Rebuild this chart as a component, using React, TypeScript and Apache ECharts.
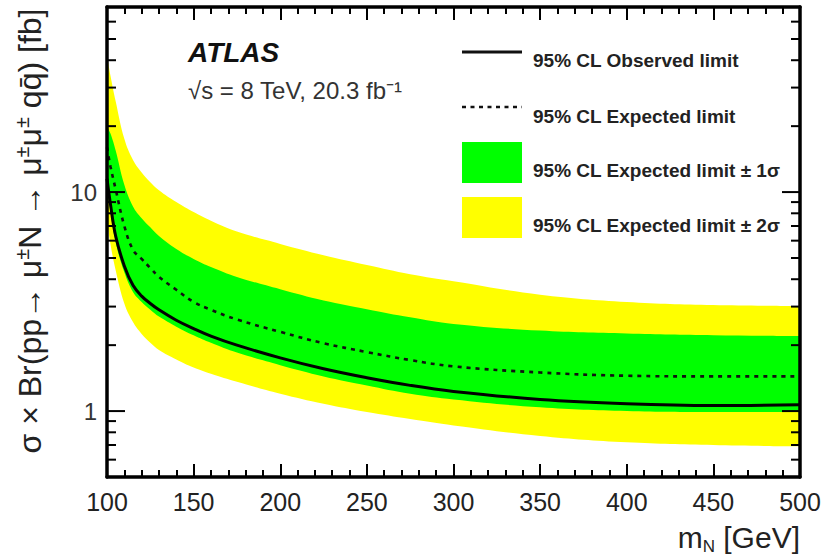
import React, { useEffect, useRef } from "react";
import * as echarts from "echarts";

// Heavy-neutrino mass points [GeV]
const masses = [100, 102, 105, 110, 115, 120, 125, 130, 140, 150, 160, 175, 200, 225, 250, 275, 300, 350, 400, 450, 500];
// 95% CL limits on sigma x Br [fb]
const observed = [11.5, 8.8, 6.3, 4.6, 3.75, 3.35, 3.1, 2.9, 2.6, 2.38, 2.2, 2.0, 1.75, 1.56, 1.42, 1.31, 1.23, 1.13, 1.08, 1.06, 1.07];
const expected = [16, 13.1, 10.3, 7.0, 5.45, 4.95, 4.5, 4.1, 3.58, 3.15, 2.9, 2.62, 2.3, 2.04, 1.86, 1.71, 1.6, 1.5, 1.45, 1.44, 1.44];
const plus1 = [20, 18.5, 15.5, 10.8, 8.6, 7.6, 6.9, 6.3, 5.5, 4.95, 4.55, 4.1, 3.6, 3.2, 2.92, 2.68, 2.5, 2.33, 2.26, 2.22, 2.2];
const plus2 = [42, 34, 26, 17.5, 14, 12.3, 11.1, 10.2, 9.0, 8.1, 7.4, 6.6, 5.8, 5.15, 4.65, 4.22, 3.92, 3.4, 3.15, 3.05, 3.02];
const minus1 = [10.5, 8.2, 5.9, 4.3, 3.5, 3.15, 2.9, 2.7, 2.43, 2.22, 2.05, 1.85, 1.62, 1.44, 1.31, 1.2, 1.13, 1.04, 1.0, 0.99, 0.99];
const minus2 = [7.5, 5.8, 4.4, 3.1, 2.55, 2.25, 2.05, 1.9, 1.72, 1.58, 1.48, 1.36, 1.2, 1.08, 0.99, 0.92, 0.86, 0.77, 0.72, 0.7, 0.69];

// axis ticks
const yMajorTicks = [1, 10];
const yMinorTicks = [0.6, 0.7, 0.8, 0.9, 2, 3, 4, 5, 6, 7, 8, 9, 20, 30, 40, 50, 60];
const yLabels = ["1", "10"];

const legendLabels = [
  "95% CL Observed limit",
  "95% CL Expected limit",
  "95% CL Expected limit \u00b1 1\u03c3",
  "95% CL Expected limit \u00b1 2\u03c3",
];

const FONT = "'Liberation Sans', Arial, Helvetica, sans-serif";
const YELLOW = "#ffff00";
const GREEN = "#00ff00";
const SMOOTH = 0.4;

const pts = (vals: number[]) => masses.map((m, i) => [m, vals[i]]);

const band = (name: string, vals: number[], color: string) => ({
  name,
  type: "line",
  data: pts(vals),
  smooth: SMOOTH,
  symbol: "none",
  silent: true,
  lineStyle: { opacity: 0 },
  areaStyle: { color, opacity: 1, origin: "start" },
  z: 2,
});

function App() {
  const ref = useRef<HTMLDivElement>(null);
  useEffect(() => {
    const chart = echarts.init(ref.current!, null, { renderer: "svg" });
    const xAxisBase = {
      type: "value",
      min: 100,
      max: 500,
      interval: 50,
      z: 10,
      axisLine: { show: true, lineStyle: { color: "#000", width: 3.5 } },
      axisTick: { show: true, inside: true, length: 13, lineStyle: { color: "#000", width: 2 } },
      minorTick: { show: true, splitNumber: 5, length: 7, lineStyle: { color: "#000", width: 2 } },
      splitLine: { show: false },
    };
    const yAxisBase = {
      type: "log",
      logBase: 10,
      min: 0.5,
      max: 70,
      z: 10,
      axisLine: { show: true, lineStyle: { color: "#000", width: 3.5 } },
      axisTick: { show: false },
      splitLine: { show: false },
    };
    const option = {
      animation: false,
      backgroundColor: "#fff",
      grid: { left: 107, right: 27, top: 7, bottom: 78, containLabel: false },
      xAxis: [
        {
          ...xAxisBase,
          position: "bottom",
          axisLabel: { show: true, fontSize: 25, color: "#222", fontFamily: FONT, margin: 12 },
        },
        { ...xAxisBase, position: "top", axisLabel: { show: false } },
      ],
      yAxis: [
        {
          ...yAxisBase,
          position: "left",
          axisLabel: {
            show: true,
            fontSize: 24,
            color: "#333",
            fontFamily: FONT,
            margin: 10,
            formatter: (v: number) => {
              for (let i = 0; i < yMajorTicks.length; i++) {
                if (Math.abs(v - yMajorTicks[i]) < 1e-6) return yLabels[i];
              }
              return "";
            },
          },
        },
        { ...yAxisBase, position: "right", axisLabel: { show: false } },
      ],
      series: [
        band("95% CL Expected limit \u00b1 2\u03c3", plus2, YELLOW),
        band("95% CL Expected limit \u00b1 1\u03c3", plus1, GREEN),
        band("lower1", minus1, YELLOW),
        band("lower2", minus2, "#ffffff"),
        {
          name: "95% CL Expected limit",
          type: "line",
          data: pts(expected),
          smooth: SMOOTH,
          symbol: "none",
          lineStyle: { color: "#111", width: 2.6, type: [4, 5] },
          z: 4,
        },
        {
          name: "95% CL Observed limit",
          type: "line",
          data: pts(observed),
          smooth: SMOOTH,
          symbol: "none",
          lineStyle: { color: "#000", width: 3 },
          z: 4,
        },
        {
          type: "custom",
          coordinateSystem: "cartesian2d",
          data: [[100, 1]],
          clip: false,
          z: 6,
          silent: true,
          renderItem: (_p: any, api: any) => {
            const children: any[] = [];
            const add = (v: number, len: number) => {
              const l = api.coord([100, v]);
              const r = api.coord([500, v]);
              children.push({
                type: "line",
                shape: { x1: l[0], y1: l[1], x2: l[0] + len, y2: l[1] },
                style: { stroke: "#000", lineWidth: 2 },
              });
              children.push({
                type: "line",
                shape: { x1: r[0] - len, y1: r[1], x2: r[0], y2: r[1] },
                style: { stroke: "#000", lineWidth: 2 },
              });
            };
            yMajorTicks.forEach((v) => add(v, 18));
            yMinorTicks.forEach((v) => add(v, 9));
            return { type: "group", children };
          },
        },
      ],
      graphic: [
        {
          type: "text",
          x: 188,
          y: 52,
          style: {
            text: "ATLAS",
            fontFamily: FONT,
            fontSize: 28,
            fontWeight: "bold",
            fontStyle: "italic",
            fill: "#111",
            verticalAlign: "middle",
          },
        },
        {
          type: "text",
          x: 188,
          y: 90,
          style: {
            text: "\u221as = 8 TeV, 20.3 fb\u207b\u00b9",
            fontFamily: FONT,
            fontSize: 24,
            fill: "#333",
            verticalAlign: "middle",
          },
        },
        // legend
        { type: "line", shape: { x1: 462, y1: 52, x2: 522, y2: 52 }, style: { stroke: "#111", lineWidth: 3 } },
        {
          type: "line",
          shape: { x1: 462, y1: 107, x2: 522, y2: 107 },
          style: { stroke: "#111", lineWidth: 2.6, lineDash: [4, 4.5] },
        },
        { type: "rect", shape: { x: 462, y: 142, width: 60, height: 41 }, style: { fill: GREEN } },
        { type: "rect", shape: { x: 462, y: 197, width: 60, height: 41 }, style: { fill: YELLOW } },
        ...legendLabels.map((t, i) => ({
          type: "text",
          x: 533,
          y: [60, 116, 170, 225][i],
          style: {
            text: t,
            fontFamily: FONT,
            fontSize: 19,
            fontWeight: "bold",
            fill: "#222",
            verticalAlign: "middle",
          },
        })),
        // x-axis title
        {
          type: "text",
          x: 800,
          y: 537,
          style: {
            text: "{n|m}{s|N}{n| [GeV]}",
            align: "right",
            verticalAlign: "middle",
            fill: "#222",
            rich: {
              n: { fontFamily: FONT, fontSize: 30, fill: "#222", lineHeight: 35 },
              s: { fontFamily: FONT, fontSize: 17, fill: "#222", verticalAlign: "bottom", lineHeight: 22 },
            },
          },
        },
        // y-axis title
        {
          type: "text",
          x: 30,
          y: 231,
          rotation: Math.PI / 2,
          style: {
            text: "{n|\u03c3 \u00d7 Br(pp\u2192 \u03bc}{s|\u00b1}{n|N \u2192 \u03bc}{s|\u00b1}{n|\u03bc}{s|\u00b1}{n| qq\u0304) [fb]}",
            align: "center",
            verticalAlign: "middle",
            fill: "#222",
            rich: {
              n: { fontFamily: FONT, fontSize: 32, fill: "#222", lineHeight: 36 },
              s: { fontFamily: FONT, fontSize: 20, fill: "#222", verticalAlign: "top", lineHeight: 24 },
            },
          },
        },
      ],
    };
    chart.setOption(option as any);
    return () => chart.dispose();
  }, []);
  return (
    <div
      ref={ref}
      style={{ position: "fixed", left: 0, top: 0, width: 827, height: 555, background: "#fff" }}
    />
  );
}

export default App;
